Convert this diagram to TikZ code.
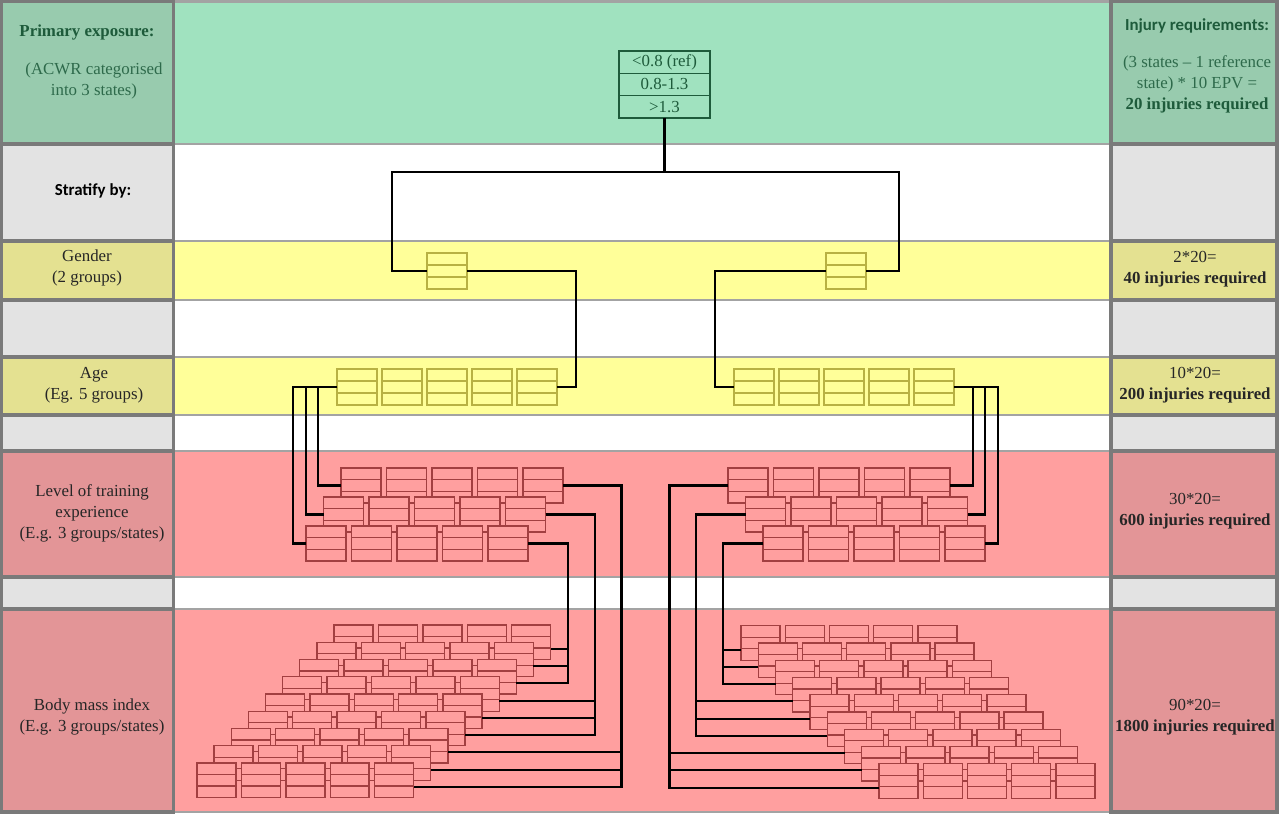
\documentclass[tikz,border=0pt]{standalone}
\usepackage{fontspec}
\setmainfont{Liberation Serif}
\newfontfamily\calibri{Carlito}
\usetikzlibrary{calc,positioning}
\definecolor{greenC}{HTML}{A0E2BF}
\definecolor{greenS}{HTML}{98CBAE}
\definecolor{greyS}{HTML}{E3E3E3}
\definecolor{yellowC}{HTML}{FFFF99}
\definecolor{yellowS}{HTML}{E4E191}
\definecolor{redC}{HTML}{FF9F9F}
\definecolor{redS}{HTML}{E39597}
\definecolor{darkgreen}{HTML}{1E5B3B}
\definecolor{softgreen}{HTML}{2E6A4B}
\definecolor{olive}{HTML}{B8B143}
\definecolor{darkred}{HTML}{A23F41}
\definecolor{ruleC}{HTML}{A3A3A3}
\definecolor{ruleS}{HTML}{7A7A7A}
\definecolor{ink}{HTML}{262626}

\begin{document}
\begin{tikzpicture}[x=0.02cm,y=-0.02cm,
        bandC/.style={draw=ruleC,line width=1.2pt},
        bandS/.style={draw=ruleS,line width=1.8pt},
        txt/.style={align=center,inner sep=0pt,text=ink,font=\fontsize{9.6}{12}\selectfont},
        thirds/.style={path picture={
            \coordinate (nw) at (path picture bounding box.north west);
            \coordinate (se) at (path picture bounding box.south east);
            \draw[#1,line width=0.8pt] ($(nw)!1/3!(nw|-se)$) -- ($(nw-|se)!1/3!(se)$)
                ($(nw)!2/3!(nw|-se)$) -- ($(nw-|se)!2/3!(se)$);}},
        agebox/.style={draw=olive,line width=0.8pt,fill=yellowC,minimum width=0.8cm,
            minimum height=0.72cm,inner sep=0pt,outer sep=0pt,thirds=olive},
        trainbox/.style={draw=darkred,line width=0.8pt,fill=redC,minimum width=0.8cm,
            minimum height=0.7cm,inner sep=0pt,outer sep=0pt,thirds=darkred},
        bmibox/.style={trainbox,minimum width=0.78cm,minimum height=0.69cm},
        topcell/.style={draw=darkgreen,line width=0.9pt,minimum width=1.82cm,minimum height=0.446cm,
            inner sep=0pt,outer sep=0pt,text=darkgreen,font=\fontsize{9.6}{12}\selectfont},
        wire/.style={line width=1.2pt,black}]
        \useasboundingbox (0,0) rectangle (1280,815);

        % bands
        \foreach \ya/\yb/\cc/\cs in {1.5/144/greenC/greenS,144/241/white/greyS,241/300/yellowC/yellowS,
            300/357/white/greyS,357/415/yellowC/yellowS,415/451/white/greyS,451/577/redC/redS,
            577/609/white/greyS,609/812/redC/redS}{
            \draw[bandC,fill=\cc] (173.5,\ya) rectangle (1111,\yb);
            \draw[bandS,fill=\cs] (1.5,\ya) rectangle (173.5,\yb);
            \draw[bandS,fill=\cs] (1111,\ya) rectangle (1277,\yb);
        }

        % left column
        \node[txt,text=darkgreen] (exposure) at (87,32) {\bfseries Primary exposure:};
        \node[txt,text=softgreen] (acwrtxt) at (94,81) {(ACWR categorised\\into 3 states)};
        \node[txt,text=black] (stratify) at (93,191) {\calibri\bfseries Stratify by:};
        \node[txt] (gender) at (87,268) {Gender\\(2 groups)};
        \node[txt] (age) at (94,385) {Age\\(Eg. 5 groups)};
        \node[txt] (training) at (92,513) {Level of training\\experience\\(E.g. 3 groups/states)};
        \node[txt] (bmi) at (92,717) {Body mass index\\(E.g. 3 groups/states)};

        % right column
        \node[txt,text=darkgreen] (injreq) at (1197,26) {\calibri\bfseries Injury requirements:};
        \node[txt,text=softgreen] (injA) at (1197,84)
            {(3 states – 1 reference\\state) * 10 EPV =\\\textcolor{darkgreen}{\bfseries 20 injuries required}};
        \node[txt] (injB) at (1195,269) {2*20=\\\textbf{40 injuries required}};
        \node[txt] (injC) at (1195,385) {10*20=\\\textbf{200 injuries required}};
        \node[txt] (injD) at (1195,511) {30*20=\\\textbf{600 injuries required}};
        \node[txt] (injE) at (1195,717) {90*20=\\\textbf{1800 injuries required}};

        % exposure states
        \node[topcell] (acwr1) at (664.5,62.2) {<0.8 (ref)};
        \node[topcell,below=0pt of acwr1] (acwr2) {0.8-1.3};
        \node[topcell,below=0pt of acwr2] (acwr3) {>1.3};

        % strata
        \node[agebox] (gL) at (447,271) {};
        \node[agebox] (gR) at (846,271) {};
        \foreach \c in {1,...,5} {
            \node[agebox] (aL\c) at ({357+45*(\c-1)},387) {};
            \node[agebox] (aR\c) at ({754+45*(\c-1)},387) {};
        }
        \foreach \r in {1,2,3} \foreach \c in {1,...,5} {
            \node[trainbox] (tL-\r-\c) at ({361-17.5*(\r-1)+45.5*(\c-1)},{485.5+29*(\r-1)}) {};
            \node[trainbox] (tR-\r-\c) at ({748+17.5*(\r-1)+45.5*(\c-1)},{485.5+29*(\r-1)}) {};
        }
        \foreach \r in {1,...,9} \foreach \c in {1,...,5} {
            \node[bmibox] (bL-\r-\c) at ({353.5-17.125*(\r-1)+44.4*(\c-1)},{642.25+17.25*(\r-1)}) {};
            \node[bmibox] (bR-\r-\c) at ({760.5+17.25*(\r-1)+44.2*(\c-1)},{643+17.25*(\r-1)}) {};
        }

        % connectors
        \coordinate (splitL) at (392,172);
        \coordinate (splitR) at (899,172);
        \coordinate (jL) at (576,387);
        \coordinate (jR) at (715,387);
        \draw[wire] (acwr3.south) -- (acwr3.south |- splitL);
        \draw[wire] (gL.west) -| (splitL) -- (splitR) |- (gR.east);
        \draw[wire] (gL.east) -| (jL) -- (aL5.east);
        \draw[wire] (gR.west) -| (jR) -- (aR1.west);
        \foreach \r/\d in {1/19,2/31,3/44} {
            \draw[wire] (aL1.west) -- ++(-\d,0) |- (tL-\r-1.west);
            \draw[wire] (aR5.east) -- ++(\d,0) |- (tR-\r-5.east);
        }
        \foreach \r/\d/\s in {3/40/0,2/49.5/3,1/58.5/6} \foreach \i in {1,2,3} {
            \pgfmathtruncatemacro\b{\s+\i}
            \draw[wire] (tL-\r-5.east) -- ++(\d,0) |- ([yshift=-3.8pt]bL-\b-5.east);
            \draw[wire] (tR-\r-1.west) -- ++(-\d,0) |- ([yshift=-3.8pt]bR-\b-1.west);
        }
\end{tikzpicture}
\end{document}
